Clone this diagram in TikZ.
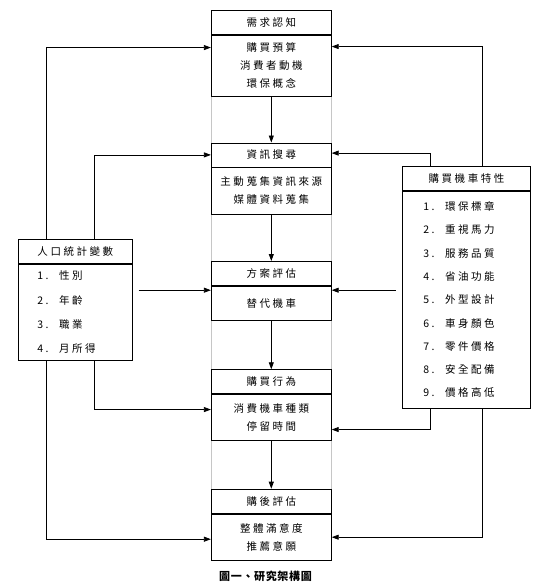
\documentclass[tikz,border=0pt]{standalone}
\usepackage{fontspec}
\setmainfont{Noto Sans CJK TC}[LetterSpace=24]
\usetikzlibrary{arrows.meta}

\begin{document}
\begin{tikzpicture}[x=1pt,y=-1pt,font=\fontsize{10.5}{18}\selectfont,
  box/.style={draw,line width=0.8pt,inner sep=0pt,anchor=north,align=center,minimum width=120},
  head/.style={box,minimum height=24},
  listbox/.style={box,align=left,inner ysep=0pt},
  arr/.style={-{Triangle[length=7pt,width=5pt]},line width=0.8pt},
  guide/.style={gray!45,line width=0.8pt}]
\useasboundingbox (0,0) rectangle (552,584);
% centre column
\node[head] (need) at (271.3,10.3) {需求認知};
\node[box,minimum height=60.7] (needb) at (need.south) {購買預算\\消費者動機\\環保概念};
\node[head] (search) at (271.3,142.5) {資訊搜尋};
\node[box,minimum height=46.5] (searchb) at (search.south) {主動蒐集資訊來源\\媒體資料蒐集};
\node[head] (eval) at (271.3,261) {方案評估};
\node[box,minimum height=34] (evalb) at (eval.south) {替代機車};
\node[head] (buy) at (271.3,369.3) {購買行為};
\node[box,minimum height=45.7] (buyb) at (buy.south) {消費機車種類\\停留時間};
\node[head] (post) at (271.3,488.7) {購後評估};
\node[box,minimum height=46.6] (postb) at (post.south) {整體滿意度\\推薦意願};
% side boxes
\node[head,minimum width=114] (demo) at (75.3,238.7) {人口統計變數};
\node[listbox,minimum width=114,minimum height=96.6,inner xsep=19pt,text width=76pt,
  font=\fontsize{10.5}{24.3}\selectfont] (demob) at (demo.south)
  {1.\quad 性別\\2.\quad 年齡\\3.\quad 職業\\4.\quad 月所得};
\node[head,minimum width=128.4] (traits) at (466.5,166) {購買機車特性};
\node[listbox,minimum width=128.4,minimum height=217,inner xsep=21pt,text width=86.4pt,
  font=\fontsize{10.5}{23.3}\selectfont] (traitsb) at (traits.south)
  {1.\quad 環保標章\\2.\quad 重視馬力\\3.\quad 服務品質\\4.\quad 省油功能\\5.\quad 外型設計\\
   6.\quad 車身顏色\\7.\quad 零件價格\\8.\quad 安全配備\\9.\quad 價格高低};
\foreach \a/\b in {needb/search,searchb/eval,evalb/buy,buyb/post}{
  \draw[guide] (\a.south west) -- (\b.north west);
  \draw[guide] (\a.south east) -- (\b.north east);
  \draw[arr] (\a) -- (\b);
}
% left connectors
\draw[arr] ([xshift=-29]demo.north) |- ([yshift=18.3]needb.west);
\draw[arr] ([xshift=19.4]demo.north) |- (search.west);
\draw[arr] ([xshift=6,yshift=22]demob.east) -- ([yshift=13]evalb.west);
\draw[arr] ([xshift=19.4]demob.south) |- ([yshift=7.8]buyb.west);
\draw[arr] ([xshift=-29]demob.south) |- ([yshift=-2]postb.west);
% right connectors
\draw[arr] ([xshift=15.8]traits.north) |- ([yshift=19.3]needb.east);
\draw[arr] ([xshift=-36.5]traits.north) |- ([yshift=1.8]search.east);
\draw[arr] ([xshift=-6,yshift=9.5]traitsb.west) -- ([yshift=13]evalb.east);
\draw[arr] ([xshift=-36.5]traitsb.south) |- ([yshift=-12.2]buyb.east);
\draw[arr] ([xshift=15.8]traitsb.south) |- (postb.east);
\node[font=\fontsize{11}{13}\selectfont\bfseries\addfontfeature{LetterSpace=6}] (cap) at (265.5,576.5) {圖一、研究架構圖};
\end{tikzpicture}
\end{document}
